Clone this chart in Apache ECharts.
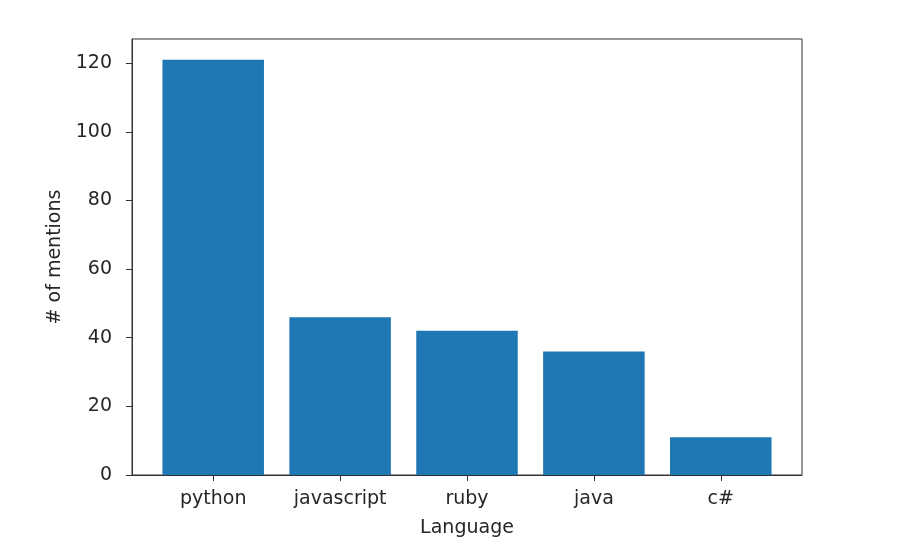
<!DOCTYPE html>
<html>
<head>
<meta charset="utf-8">
<script src="https://cdn.jsdelivr.net/npm/echarts@6/dist/echarts.min.js"></script>
<style>html,body{margin:0;padding:0;background:#fff;}#c{width:924px;height:550px;}</style>
</head>
<body>
<div id="c"></div>
<script>
const categories = ["python", "javascript", "ruby", "java", "c#"];
const mentions = [121, 46, 42, 36, 11];
const yTicks = [0, 20, 40, 60, 80, 100, 120];

const chart = echarts.init(document.getElementById('c'), null, {renderer: 'canvas'});
const font = 'DejaVu Sans';
const textColor = '#262626';
const gridLeft = 132, gridRight = 802, gridTop = 39, gridBottom = 475;
const xMin = -0.64, xMax = categories.length - 1 + 0.64;
const pxPerUnit = (gridRight - gridLeft) / (xMax - xMin);
const yMax = Math.max(...mentions) * 1.05;

chart.setOption({
  animation: false,
  backgroundColor: '#fff',
  grid: {
    left: gridLeft, right: 924 - gridRight, top: gridTop, bottom: 550 - gridBottom,
    show: true, borderColor: '#333', borderWidth: 1, backgroundColor: 'transparent'
  },
  xAxis: {
    type: 'value',
    min: xMin, max: xMax,
    name: 'Language',
    nameLocation: 'middle',
    nameGap: 44,
    nameTextStyle: {fontFamily: font, fontSize: 19, color: textColor},
    axisLine: {show: true, onZero: false, lineStyle: {color: '#333', width: 1}},
    axisTick: {show: true, length: 6, inside: false, customValues: categories.map((_, i) => i), lineStyle: {color: '#333', width: 1}},
    axisLabel: {
      show: true, margin: 15, customValues: categories.map((_, i) => i),
      formatter: v => categories[Math.round(v)] ?? '',
      fontFamily: font, fontSize: 19, color: textColor
    },
    splitLine: {show: false}
  },
  yAxis: {
    type: 'value',
    min: 0, max: yMax,
    name: '# of mentions',
    nameLocation: 'middle',
    nameGap: 63,
    nameRotate: 90,
    nameTextStyle: {fontFamily: font, fontSize: 19, color: textColor},
    axisLine: {show: true, onZero: false, lineStyle: {color: '#333', width: 1}},
    axisTick: {show: true, length: 6, inside: false, customValues: yTicks, lineStyle: {color: '#333', width: 1}},
    axisLabel: {
      show: true, margin: 20, customValues: yTicks,
      fontFamily: font, fontSize: 19, color: textColor
    },
    splitLine: {show: false}
  },
  series: [{
    type: 'bar',
    data: mentions.map((v, i) => [i, v]),
    barWidth: 0.8 * pxPerUnit,
    itemStyle: {color: '#1f77b4'},
    emphasis: {disabled: true}
  }]
});
</script>
</body>
</html>
